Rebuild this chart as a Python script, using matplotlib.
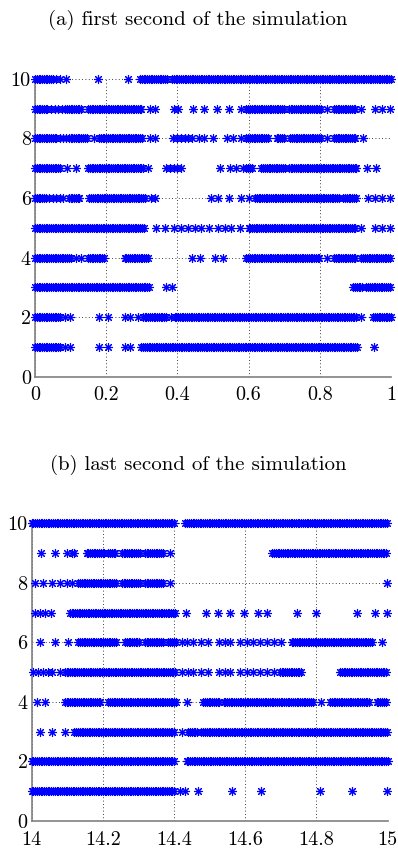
import numpy as np
import matplotlib
matplotlib.use("Agg")
import matplotlib.pyplot as plt

plt.rcParams['font.family'] = ['cmr10', 'DejaVu Serif']
plt.rcParams['axes.formatter.use_mathtext'] = True

# ---------------- data ----------------
neurons = [1, 2, 3, 4, 5, 6, 7, 8, 9, 10]
spike_dt = 0.005          # spacing of spikes inside a dense burst

# panel (a): first second, times in s
a_bursts = {
    10: [(0.0, 0.05), (0.295, 0.37), (0.385, 1.0)],
    9:  [(0.0, 0.035), (0.09, 0.13), (0.149, 0.30), (0.594, 0.702), (0.713, 0.805), (0.84, 0.904)],
    8:  [(0.0, 0.062), (0.095, 0.149), (0.18, 0.303), (0.594, 0.655), (0.679, 0.702), (0.717, 0.805), (0.84, 0.904)],
    7:  [(0.0, 0.074), (0.149, 0.308), (0.594, 0.613), (0.636, 0.702), (0.713, 0.904)],
    6:  [(0.0, 0.03), (0.095, 0.125), (0.153, 0.308), (0.618, 0.856), (0.866, 0.904)],
    5:  [(0.0, 0.308), (0.6, 0.904)],
    4:  [(0.0, 0.102), (0.149, 0.196), (0.252, 0.317), (0.594, 0.80), (0.84, 0.904), (0.917, 1.0)],
    3:  [(0.0, 0.322), (0.894, 0.922), (0.931, 1.0)],
    2:  [(0.0, 0.074), (0.303, 0.37), (0.392, 0.904), (0.95, 1.0)],
    1:  [(0.0, 0.074), (0.299, 0.904)],
}
a_single = {
    10: [0.06, 0.07, 0.088, 0.177, 0.262],
    9:  [0.045, 0.055, 0.065, 0.075, 0.085, 0.322, 0.336, 0.39, 0.403, 0.444, 0.476,
         0.51, 0.546, 0.58, 0.819, 0.917, 0.955, 0.974, 0.996],
    8:  [0.07, 0.08, 0.088, 0.167, 0.322, 0.336, 0.387, 0.40, 0.41, 0.42, 0.43, 0.44,
         0.46, 0.476, 0.50, 0.538, 0.557, 0.58, 0.819, 0.92],
    7:  [0.09, 0.116, 0.317, 0.369, 0.38, 0.39, 0.40, 0.41, 0.52, 0.548, 0.566, 0.585,
         0.934, 0.957],
    6:  [0.04, 0.05, 0.06, 0.07, 0.08, 0.327, 0.336, 0.495, 0.515, 0.546, 0.58, 0.60,
         0.936, 0.955, 0.974, 0.997],
    5:  [0.34, 0.364, 0.39, 0.41, 0.43, 0.449, 0.467, 0.49, 0.515, 0.534, 0.55, 0.576,
         0.917, 0.955, 0.974, 0.996],
    4:  [0.116, 0.13, 0.44, 0.463, 0.505, 0.529, 0.819],
    3:  [0.369, 0.385],
    2:  [0.083, 0.097, 0.181, 0.205, 0.252, 0.266, 0.29, 0.383, 0.917],
    1:  [0.083, 0.097, 0.181, 0.205, 0.252, 0.266, 0.951],
}

# panel (b): last second, times relative to t0 = 14 s
b_t0 = 14.0
b_bursts = {
    10: [(0.0, 0.40), (0.432, 1.0)],
    9:  [(0.154, 0.206), (0.215, 0.238), (0.253, 0.304), (0.318, 0.37), (0.676, 1.0)],
    8:  [(0.131, 0.238), (0.253, 0.304), (0.318, 0.37)],
    7:  [(0.107, 0.403)],
    6:  [(0.131, 0.238), (0.262, 0.304), (0.318, 0.37), (0.384, 0.407), (0.73, 0.955)],
    5:  [(0.093, 0.403), (0.697, 0.758), (0.866, 1.0)],
    4:  [(0.093, 0.196), (0.215, 0.407), (0.482, 0.529), (0.539, 0.792), (0.838, 0.95), (0.969, 0.997)],
    3:  [(0.12, 0.40), (0.44, 0.468), (0.477, 1.0)],
    2:  [(0.0, 0.40), (0.435, 1.0)],
    1:  [(0.0, 0.403)],
}
b_single = {
    10: [],
    9:  [0.025, 0.065, 0.098, 0.112, 0.12, 0.388],
    8:  [0.009, 0.032, 0.056, 0.079, 0.098, 0.112, 0.388, 0.997],
    7:  [0.009, 0.023, 0.037, 0.054, 0.434, 0.49, 0.523, 0.557, 0.597, 0.637, 0.66,
         0.745, 0.799, 0.913, 0.964, 0.997],
    6:  [0.023, 0.065, 0.103, 0.422, 0.435, 0.454, 0.477, 0.496, 0.525, 0.542, 0.557,
         0.585, 0.604, 0.622, 0.641, 0.66, 0.681, 0.70, 0.983],
    5:  [0.004, 0.018, 0.032, 0.046, 0.056, 0.079, 0.422, 0.44, 0.454, 0.477, 0.496,
         0.525, 0.542, 0.557, 0.585, 0.604, 0.622, 0.641, 0.66, 0.681],
    4:  [0.014, 0.037, 0.435, 0.813],
    3:  [0.023, 0.056, 0.093, 0.422],
    2:  [],
    1:  [0.417, 0.43, 0.466, 0.562, 0.645, 0.811, 0.901, 0.997],
}

a_xticks = [0, 0.2, 0.4, 0.6, 0.8, 1]
a_xticklabels = ['0', '0.2', '0.4', '0.6', '0.8', '1']
b_xticks = [14, 14.2, 14.4, 14.6, 14.8, 15]
b_xticklabels = ['14', '14.2', '14.4', '14.6', '14.8', '15']
yticks = [0, 2, 4, 6, 8, 10]
yticklabels = ['0', '2', '4', '6', '8', '10']
titles = ['(a) first second of the simulation', '(b) last second of the simulation']


def spike_times(bursts, singles, offset):
    parts = [np.arange(s, e + 1e-9, spike_dt) for s, e in bursts]
    parts.append(np.asarray(singles, dtype=float))
    return offset + np.concatenate(parts)


fig = plt.figure(figsize=(3.98, 8.48), dpi=100)
ax_a = fig.add_axes([0.0879, 0.5558, 0.8945, 0.3511])
ax_b = fig.add_axes([0.0796, 0.0318, 0.8945, 0.3511])

gray = '#808080'
marker = (8, 2, 0)

for ax, bursts, singles, off, xt, xtl, xlim in [
        (ax_a, a_bursts, a_single, 0.0, a_xticks, a_xticklabels, (0, 1)),
        (ax_b, b_bursts, b_single, b_t0, b_xticks, b_xticklabels, (14, 15))]:
    for n in neurons:
        t = spike_times(bursts[n], singles[n], off)
        ax.plot(t, np.full_like(t, n), linestyle='none', marker=marker,
                markersize=6.5, markeredgewidth=0.8, color='#0000ff',
                clip_on=False, zorder=3)
    ax.set_xlim(*xlim)
    ax.set_ylim(0, 10)
    ax.set_xticks(xt)
    ax.set_xticklabels(xtl)
    ax.set_yticks(yticks)
    ax.set_yticklabels(yticklabels)
    ax.grid(True, linestyle=(0, (1, 3)), color='black', linewidth=0.6)
    ax.set_axisbelow(True)
    for side in ['top', 'right']:
        ax.spines[side].set_visible(False)
    for side in ['left', 'bottom']:
        ax.spines[side].set_color(gray)
        ax.spines[side].set_linewidth(1.2)
    ax.tick_params(axis='both', length=0, labelsize=14.5)
    ax.tick_params(axis='x', pad=7)
    ax.tick_params(axis='y', pad=3)

fig.text(0.497, 0.976, titles[0], ha='center', va='center', fontsize=15)
fig.text(0.497, 0.4517, titles[1], ha='center', va='center', fontsize=15)

fig.savefig('out.png', dpi=100)
